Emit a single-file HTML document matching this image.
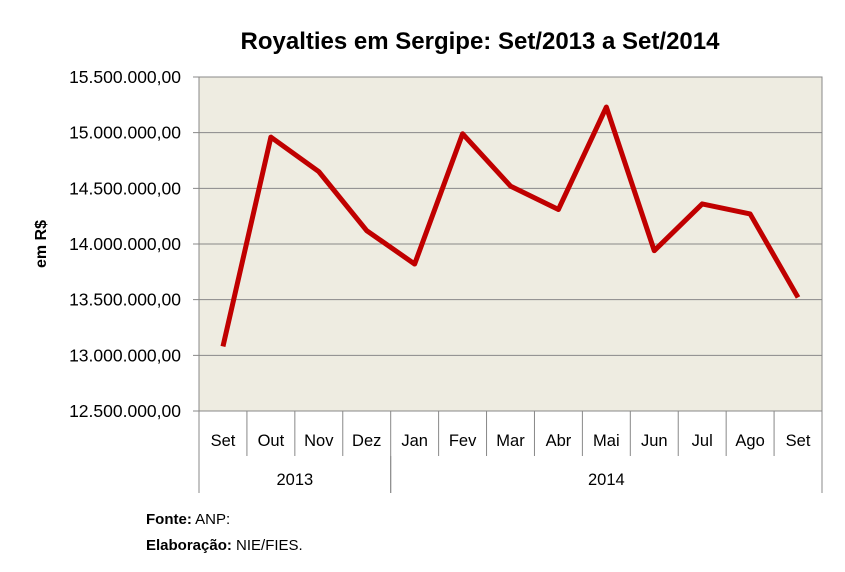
<!DOCTYPE html>
<html><head><meta charset="utf-8"><style>
body{margin:0;background:#fff;font-family:"Liberation Sans",sans-serif}
svg text{font-family:"Liberation Sans",sans-serif}
</style></head><body>
<svg width="845" height="567">
<text x="480" y="49" text-anchor="middle" font-size="24" font-weight="bold">Royalties em Sergipe: Set/2013 a Set/2014</text>
<rect x="199" y="77" width="623" height="334" fill="#eeece1" stroke="#888"/>
<g id="grid"></g>
<g id="xax"></g>
<text transform="translate(46,244) rotate(-90)" text-anchor="middle" font-size="16" font-weight="bold">em R$</text>
<polyline id="line" fill="none" stroke="#c00000" stroke-width="5" stroke-linejoin="round"/>
<text x="146" y="524" font-size="15"><tspan font-weight="bold">Fonte:</tspan> ANP:</text>
<text x="146" y="550" font-size="15"><tspan font-weight="bold">Elaboração:</tspan> NIE/FIES.</text>
</svg>
<script>
const categories=["Set","Out","Nov","Dez","Jan","Fev","Mar","Abr","Mai","Jun","Jul","Ago","Set"];
const values=[13.08,14.96,14.65,14.12,13.82,14.99,14.52,14.31,15.23,13.94,14.36,14.27,13.52];
const yTicks=[12.5,13,13.5,14,14.5,15,15.5];
const yTickLabels=["12.500.000,00","13.000.000,00","13.500.000,00","14.000.000,00","14.500.000,00","15.000.000,00","15.500.000,00"];
const years=["2013","2014"];
const yearSpans=[4,9];
const NS="http://www.w3.org/2000/svg";
const x0=199,x1=822,y0=411,y1=77;
const bw=(x1-x0)/categories.length;
const xs=i=>x0+bw*(i+0.5);
const ys=v=>y0-(v-12.5)/(15.5-12.5)*(y0-y1);
function mk(t,a,p){const e=document.createElementNS(NS,t);for(const k in a)e.setAttribute(k,a[k]);p.appendChild(e);return e;}
const g=document.getElementById('grid');
yTicks.forEach((v,i)=>{
 const l=mk('line',{x1:x0-6,x2:x1,y1:ys(v),y2:ys(v),stroke:'#888','stroke-width':1},g);
 
 
 const t=mk('text',{x:x0-18,y:ys(v)+6,'text-anchor':'end','font-size':17.5},g);
 t.textContent=yTickLabels[i];
 
 
});
const xa=document.getElementById('xax');
for(let i=0;i<=categories.length;i++){
 const xx=x0+bw*i;
 const ln=mk('line',{x1:xx,x2:xx,y1:y0,y2:456,stroke:'#888'},xa);
 
 
}
categories.forEach((c,i)=>{
 const t=mk('text',{x:xs(i),y:446,'text-anchor':'middle','font-size':16.5},xa);
 t.textContent=c;
 
 
});
let s=0;
years.forEach((y,i)=>{
 const a=x0+bw*s,b=x0+bw*(s+yearSpans[i]);
 mk('line',{x1:a,x2:a,y1:456,y2:493,stroke:'#888'},xa);
 mk('line',{x1:b,x2:b,y1:456,y2:493,stroke:'#888'},xa);
 const t=mk('text',{x:(a+b)/2,y:485,'text-anchor':'middle','font-size':16.5},xa);
 t.textContent=y;
 
 
 s+=yearSpans[i];
});
document.getElementById('line').setAttribute('points',values.map((v,i)=>xs(i)+','+ys(v)).join(' '));
</script>
</body></html>
